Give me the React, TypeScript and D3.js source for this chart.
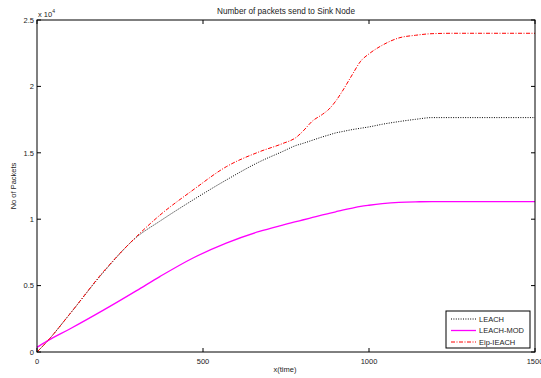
import React, { useEffect, useRef } from "react";
import * as d3 from "d3";

const times = [0, 30, 100, 200, 300, 370, 470, 570, 670, 740, 780, 800, 830, 860, 880, 900, 920, 950, 975, 1000, 1040, 1090, 1140, 1190, 1250, 1350, 1500];
const leach = [0, 780, 2900, 6000, 8650, 9850, 11450, 12950, 14320, 15100, 15550, 15700, 15950, 16200, 16350, 16500, 16600, 16750, 16850, 16950, 17150, 17350, 17520, 17650, 17650, 17650, 17650];
const leachMod = [350, 820, 1750, 3150, 4620, 5680, 7080, 8200, 9080, 9560, 9820, 9940, 10130, 10320, 10440, 10560, 10680, 10840, 10960, 11050, 11170, 11270, 11310, 11320, 11320, 11320, 11320];
const eip = [0, 780, 2900, 6050, 8700, 10300, 12200, 13950, 15080, 15700, 16150, 16600, 17400, 17900, 18300, 18900, 19650, 20900, 21900, 22450, 23100, 23650, 23850, 23970, 24000, 24000, 24000];

const seriesNames = ["LEACH", "LEACH-MOD", "Eip-IEACH"];
const xTicks = [0, 500, 1000, 1500];
const yTicks = [0, 5000, 10000, 15000, 20000, 25000];
const titleText = "Number of packets send to Sink Node";
const xLabel = "x(time)";
const yLabel = "No of Packets";

export default function App() {
  const ref = useRef<SVGSVGElement>(null);
  useEffect(() => {
    const svg = d3.select(ref.current);
    svg.selectAll("*").remove();
    const W = 541, H = 378;
    const left = 37, right = 535, top = 20, bottom = 352;
    const x = d3.scaleLinear().domain([0, 1500]).range([left, right]);
    const y = d3.scaleLinear().domain([0, 25000]).range([bottom, top]);
    const font = "Liberation Sans, Arial, Helvetica, sans-serif";

    svg.append("rect").attr("width", W).attr("height", H).attr("fill", "white");

    const series = [
      { name: seriesNames[0], vals: leach, color: "#000", dash: "1,1.4", w: 1 },
      { name: seriesNames[1], vals: leachMod, color: "#ff00ff", dash: null, w: 1.3 },
      { name: seriesNames[2], vals: eip, color: "#ff0000", dash: "4,1.5,1,1.5", w: 1 },
    ];

    const line = d3.line<number>()
      .x((_, i) => x(times[i]))
      .y((d) => y(d))
      .curve(d3.curveMonotoneX);

    series.forEach((s) => {
      const p = svg.append("path")
        .attr("d", line(s.vals) as string)
        .attr("fill", "none")
        .attr("stroke", s.color)
        .attr("stroke-width", s.w);
      if (s.dash) p.attr("stroke-dasharray", s.dash);
    });

    svg.append("rect").attr("x", left).attr("y", top).attr("width", right - left).attr("height", bottom - top)
      .attr("fill", "none").attr("stroke", "#000").attr("stroke-width", 1);

    const tl = 4;
    xTicks.forEach((t) => {
      const px = x(t);
      svg.append("line").attr("x1", px).attr("x2", px).attr("y1", bottom).attr("y2", bottom - tl).attr("stroke", "#000");
      svg.append("line").attr("x1", px).attr("x2", px).attr("y1", top).attr("y2", top + tl).attr("stroke", "#000");
      svg.append("text").attr("x", px).attr("y", 363.5).attr("text-anchor", "middle")
        .attr("font-family", font).attr("font-size", 7.5).attr("fill", "#222").text(String(t));
    });
    yTicks.forEach((t) => {
      const py = y(t);
      svg.append("line").attr("x1", left).attr("x2", left + tl).attr("y1", py).attr("y2", py).attr("stroke", "#000");
      svg.append("line").attr("x1", right).attr("x2", right - tl).attr("y1", py).attr("y2", py).attr("stroke", "#000");
      svg.append("text").attr("x", 34).attr("y", py + 2.7).attr("text-anchor", "end")
        .attr("font-family", font).attr("font-size", 7.5).attr("fill", "#222").text(String(t / 10000));
    });

    const ex = svg.append("text").attr("x", 38).attr("y", 17).attr("font-family", font).attr("font-size", 7.5).attr("fill", "#222");
    ex.append("tspan").text("x 10");
    ex.append("tspan").attr("font-size", 5).attr("dy", -4.5).text("4");

    svg.append("text").attr("x", 286).attr("y", 14).attr("text-anchor", "middle")
      .attr("font-family", font).attr("font-size", 8.2).attr("fill", "#222").text(titleText);
    svg.append("text").attr("x", 285).attr("y", 371.5).attr("text-anchor", "middle")
      .attr("font-family", font).attr("font-size", 7.5).attr("fill", "#222").text(xLabel);
    svg.append("text").attr("transform", "translate(16,186) rotate(-90)").attr("text-anchor", "middle")
      .attr("font-family", font).attr("font-size", 7.5).attr("fill", "#222").text(yLabel);

    const lx = 446, ly = 311, lw = 84, lh = 37;
    svg.append("rect").attr("x", lx).attr("y", ly).attr("width", lw).attr("height", lh)
      .attr("fill", "white").attr("stroke", "#000").attr("stroke-width", 1);
    series.forEach((s, i) => {
      const cy = 319 + i * 11.5;
      const l = svg.append("line").attr("x1", 451).attr("x2", 476).attr("y1", cy).attr("y2", cy)
        .attr("stroke", s.color).attr("stroke-width", s.w);
      if (s.dash) l.attr("stroke-dasharray", s.dash);
      svg.append("text").attr("x", 479).attr("y", cy + 2.7).attr("font-family", font).attr("font-size", 7.5)
        .attr("fill", "#222").text(s.name);
    });
  }, []);
  return (
    <svg ref={ref} width={541} height={378} style={{ position: "fixed", left: 0, top: 0 }} />
  );
}
